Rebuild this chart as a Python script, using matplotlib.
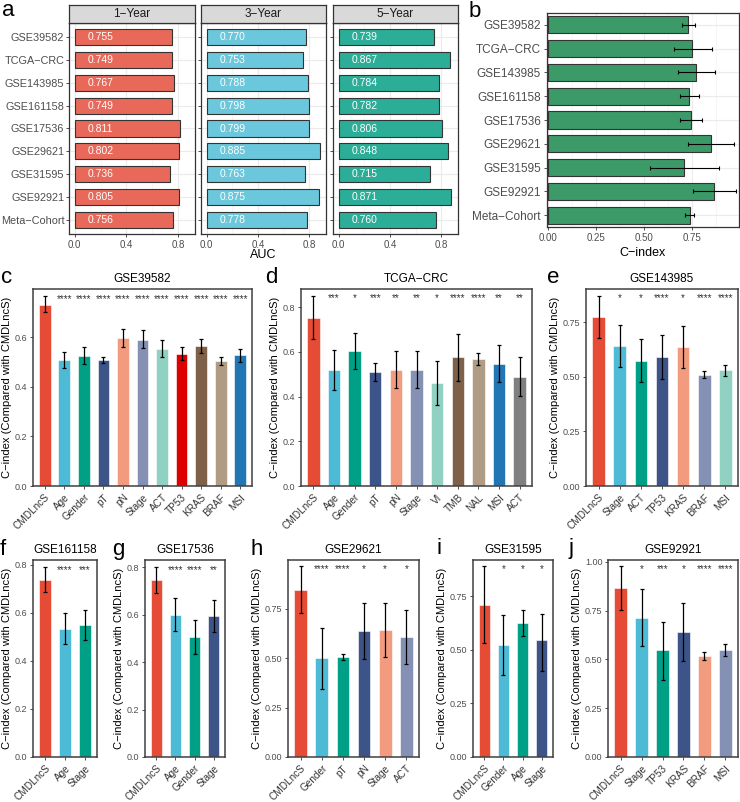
import matplotlib.pyplot as plt
import numpy as np

plt.rcParams['font.family'] = ['Liberation Sans', 'DejaVu Sans']

# ---- panel a: time-dependent AUC per cohort ----
cohorts = ['GSE39582', 'TCGA−CRC', 'GSE143985', 'GSE161158', 'GSE17536',
           'GSE29621', 'GSE31595', 'GSE92921', 'Meta−Cohort']
years = ['1−Year', '3−Year', '5−Year']
auc_1y = [0.755, 0.749, 0.767, 0.749, 0.811, 0.802, 0.736, 0.805, 0.756]
auc_3y = [0.770, 0.753, 0.788, 0.798, 0.799, 0.885, 0.763, 0.875, 0.778]
auc_5y = [0.739, 0.867, 0.784, 0.782, 0.806, 0.848, 0.715, 0.871, 0.760]

# ---- panel b: C-index of CMDLncS per cohort ----
cidx = [0.728, 0.752, 0.773, 0.737, 0.745, 0.847, 0.710, 0.865, 0.738]
cidx_lo = [0.700, 0.656, 0.676, 0.686, 0.690, 0.727, 0.530, 0.754, 0.714]
cidx_hi = [0.764, 0.852, 0.872, 0.789, 0.800, 0.968, 0.889, 0.980, 0.763]

# ---- panels c-j: CMDLncS vs clinical variables ----
c_names = ['CMDLncS', 'Age', 'Gender', 'pT', 'pN', 'Stage', 'ACT', 'TP53', 'KRAS', 'BRAF', 'MSI']
c_val = [0.729, 0.507, 0.525, 0.507, 0.597, 0.589, 0.553, 0.533, 0.564, 0.503, 0.527]
c_lo = [0.700, 0.474, 0.491, 0.494, 0.560, 0.558, 0.518, 0.507, 0.536, 0.487, 0.500]
c_hi = [0.764, 0.540, 0.560, 0.520, 0.633, 0.627, 0.587, 0.560, 0.594, 0.518, 0.553]
c_sig = ['', '****', '****', '****', '****', '****', '****', '****', '****', '****', '****']

d_names = ['CMDLncS', 'Age', 'Gender', 'pT', 'pN', 'Stage', 'VI', 'TMB', 'NAL', 'MSI', 'ACT']
d_val = [0.753, 0.520, 0.604, 0.510, 0.520, 0.520, 0.462, 0.577, 0.568, 0.546, 0.489]
d_lo = [0.657, 0.430, 0.525, 0.469, 0.438, 0.438, 0.364, 0.472, 0.540, 0.465, 0.402]
d_hi = [0.852, 0.609, 0.687, 0.550, 0.606, 0.606, 0.559, 0.682, 0.597, 0.630, 0.577]
d_sig = ['', '***', '*', '***', '**', '**', '*', '****', '****', '**', '**']

e_names = ['CMDLncS', 'Stage', 'ACT', 'TP53', 'KRAS', 'BRAF', 'MSI']
e_val = [0.773, 0.642, 0.574, 0.589, 0.636, 0.510, 0.529]
e_lo = [0.676, 0.544, 0.476, 0.489, 0.542, 0.495, 0.505]
e_hi = [0.872, 0.735, 0.672, 0.690, 0.732, 0.526, 0.553]
e_sig = ['', '*', '*', '****', '*', '****', '****']

f_names = ['CMDLncS', 'Age', 'Stage']
f_val = [0.737, 0.532, 0.550]
f_lo = [0.686, 0.470, 0.488]
f_hi = [0.789, 0.597, 0.612]
f_sig = ['', '****', '***']

g_names = ['CMDLncS', 'Age', 'Gender', 'Stage']
g_val = [0.746, 0.598, 0.505, 0.594]
g_lo = [0.690, 0.530, 0.432, 0.527]
g_hi = [0.800, 0.669, 0.577, 0.661]
g_sig = ['', '****', '****', '**']

h_names = ['CMDLncS', 'Gender', 'pT', 'pN', 'Stage', 'ACT']
h_val = [0.848, 0.500, 0.508, 0.639, 0.644, 0.609]
h_lo = [0.727, 0.346, 0.493, 0.498, 0.507, 0.470]
h_hi = [0.968, 0.652, 0.522, 0.778, 0.778, 0.747]
h_sig = ['', '****', '****', '*', '*', '*']

i_names = ['CMDLncS', 'Gender', 'Age', 'Stage']
i_val = [0.709, 0.522, 0.624, 0.544]
i_lo = [0.530, 0.384, 0.565, 0.400]
i_hi = [0.889, 0.663, 0.684, 0.666]
i_sig = ['', '*', '*', '*']

j_names = ['CMDLncS', 'Stage', 'TP53', 'KRAS', 'BRAF', 'MSI']
j_val = [0.866, 0.713, 0.547, 0.640, 0.518, 0.547]
j_lo = [0.754, 0.567, 0.397, 0.491, 0.496, 0.516]
j_hi = [0.980, 0.859, 0.694, 0.789, 0.538, 0.581]
j_sig = ['', '*', '***', '*', '****', '****']

year_colors = ['#E8695A', '#6BC7DB', '#2BAD97']
npg = ['#E64B35', '#4DBBD5', '#00A087', '#3C5488', '#F39B7F',
       '#8491B4', '#91D1C2', '#DC0000', '#7E6148', '#B09C85']
c_colors = npg + ['#2276B4']
d_colors = npg[:7] + ['#7E6148', '#B09C85', '#2276B4', '#808080']

W, H = 740, 802
fig = plt.figure(figsize=(W / 100, H / 100), dpi=100)


def px_axes(l, t, r, b):
    return fig.add_axes([l / W, 1 - b / H, (r - l) / W, (b - t) / H])


def px_text(x, y, s, **kw):
    fig.text(x / W, 1 - y / H, s, **kw)


def style_spines(ax, lw=0.9, color='#333333'):
    for sp in ax.spines.values():
        sp.set_linewidth(lw)
        sp.set_color(color)


# ---------- panel a ----------
aucs = [auc_1y, auc_3y, auc_5y]
facet_x = [(69, 195), (201, 326), (333, 458)]
ypos = np.arange(len(cohorts))
amax = max(max(v) for v in aucs)
for k, (vals, (l, r)) in enumerate(zip(aucs, facet_x)):
    ax = px_axes(l, 23, r, 234)
    ax.set_axisbelow(True)
    ax.barh(ypos, vals, height=0.7, color=year_colors[k], edgecolor='#333333', linewidth=0.8)
    for yi, v in zip(ypos, vals):
        ax.text(0.2, yi, '%.3f' % v, color='white', fontsize=7.5, ha='center', va='center')
    ax.set_xlim(-0.05 * amax, 1.05 * amax)
    ax.set_ylim(len(cohorts) - 0.4, -0.6)
    ax.set_xticks([0, 0.4, 0.8])
    ax.set_xticklabels(['0.0', '0.4', '0.8'])
    ax.set_xticks([0.2, 0.6], minor=True)
    ax.grid(True, which='major', color='#EBEBEB', linewidth=0.8)
    ax.grid(True, which='minor', axis='x', color='#F3F3F3', linewidth=0.5)
    ax.set_yticks(ypos)
    if k == 0:
        ax.set_yticklabels(cohorts)
    else:
        ax.set_yticklabels([])
        ax.tick_params(axis='y', length=0)
    ax.tick_params(axis='both', which='major', labelsize=7, labelcolor='#4D4D4D',
                   color='#333333', length=2.2, width=0.6, pad=2)
    ax.tick_params(axis='y', labelsize=7.8, pad=1.2)
    ax.tick_params(axis='x', which='minor', length=0)
    style_spines(ax)
    sax = px_axes(l, 5, r, 23)
    sax.set_facecolor('#D9D9D9')
    sax.set_xticks([])
    sax.set_yticks([])
    style_spines(sax)
    sax.text(0.5, 0.5, years[k], ha='center', va='center', fontsize=8.5,
             color='#1A1A1A', transform=sax.transAxes)
px_text(263, 255, 'AUC', ha='center', va='center', fontsize=9)

# ---------- panel b ----------
ax = px_axes(547, 13, 739, 227)
ax.set_axisbelow(True)
ax.barh(ypos, cidx, height=0.72, color='#3C9A68', edgecolor='#333333', linewidth=0.8)
ax.errorbar(cidx, ypos, xerr=[np.array(cidx) - np.array(cidx_lo), np.array(cidx_hi) - np.array(cidx)],
            fmt='none', ecolor='black', elinewidth=0.8, capsize=1.5, capthick=0.8)
ax.set_xlim(-0.005, 0.995)
ax.set_ylim(len(cohorts) - 0.5, -0.5)
ax.set_xticks([0, 0.25, 0.5, 0.75])
ax.set_xticklabels(['0.00', '0.25', '0.50', '0.75'])
ax.set_xticks([0.125, 0.375, 0.625, 0.875], minor=True)
ax.set_yticks(ypos)
ax.set_yticklabels(cohorts)
ax.grid(True, which='major', color='#EBEBEB', linewidth=0.8)
ax.grid(True, which='minor', axis='x', color='#F3F3F3', linewidth=0.5)
ax.tick_params(axis='both', which='major', labelsize=7, labelcolor='#4D4D4D',
               color='#333333', length=2.5, width=0.6, pad=2)
ax.tick_params(axis='y', labelsize=8.5)
ax.tick_params(axis='x', which='minor', length=0)
style_spines(ax)
px_text(643, 253, 'C−index', ha='center', va='center', fontsize=9)


# ---------- panels c-j ----------
def bar_panel(box, names, vals, lo, hi, sig, colors, title, step):
    ax = px_axes(*box)
    x = np.arange(len(names))
    vals = np.array(vals)
    ax.bar(x, vals, width=0.6, color=colors[:len(names)], edgecolor='white', linewidth=0.4)
    ax.errorbar(x, vals, yerr=[vals - np.array(lo), np.array(hi) - vals], fmt='none',
                ecolor='black', elinewidth=0.9, capsize=1.3, capthick=0.9)
    top = max(hi)
    for xi, s in zip(x, sig):
        if s:
            ax.annotate(s, (xi, top), xytext=(0, -4.2), textcoords='offset points',
                        ha='center', va='baseline', fontsize=7, color='#333333')
    ax.set_xlim(-0.6, len(names) - 0.4)
    ax.set_ylim(0, top + 0.03)
    ticks = np.arange(0, top + 0.03 + 1e-6, step)
    ax.set_yticks(ticks)
    fmt = '%.1f' if step == 0.2 else '%.2f'
    ax.set_yticklabels([fmt % t for t in ticks])
    ax.set_xticks(x)
    ax.set_xticklabels(names, rotation=45, ha='right', va='top', rotation_mode='anchor')
    ax.tick_params(axis='y', labelsize=6.5, labelcolor='#4D4D4D', color='#333333',
                   length=2.5, width=0.6, pad=1.5)
    ax.tick_params(axis='x', labelsize=7.2, labelcolor='#333333', color='#333333',
                   length=2.5, width=0.6, pad=2)
    ax.set_ylabel('C−index (Compared with CMDLncS)', fontsize=8, labelpad=2)
    ax.set_title(title, fontsize=8.5, pad=5)
    style_spines(ax, lw=1.1, color='#404040')
    return ax


bar_panel((33, 289, 252, 486), c_names, c_val, c_lo, c_hi, c_sig, c_colors, 'GSE39582', 0.2)
bar_panel((301, 289, 532, 486), d_names, d_val, d_lo, d_hi, d_sig, d_colors, 'TCGA−CRC', 0.2)
bar_panel((586, 289, 738, 486), e_names, e_val, e_lo, e_hi, e_sig, npg, 'GSE143985', 0.25)
bar_panel((33, 560, 97, 757), f_names, f_val, f_lo, f_hi, f_sig, npg, 'GSE161158', 0.2)
bar_panel((145, 560, 225, 757), g_names, g_val, g_lo, g_hi, g_sig, npg, 'GSE17536', 0.2)
bar_panel((288, 560, 419, 757), h_names, h_val, h_lo, h_hi, h_sig, npg, 'GSE29621', 0.25)
bar_panel((473, 560, 553, 757), i_names, i_val, i_lo, i_hi, i_sig, npg, 'GSE31595', 0.25)
bar_panel((608, 560, 738, 757), j_names, j_val, j_lo, j_hi, j_sig, npg, 'GSE92921', 0.25)

# panel letters
for s, x, y in [('a', 2, 16), ('b', 469, 17), ('c', 1, 283), ('d', 265, 283), ('e', 547, 283),
                ('f', 0, 555), ('g', 112, 555), ('h', 250, 555), ('i', 436, 554), ('j', 568, 554)]:
    px_text(x, y, s, fontsize=16, ha='left', va='baseline')

fig.savefig('out.png', dpi=100)
